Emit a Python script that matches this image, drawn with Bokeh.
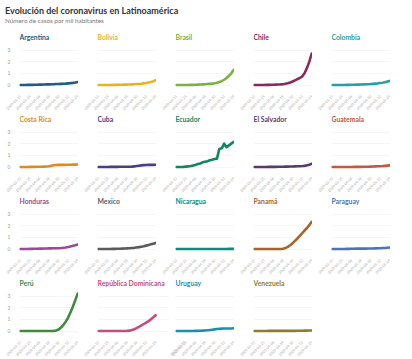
import pandas as pd
from math import pi
from bokeh.plotting import figure
from bokeh.layouts import column, row
from bokeh.models import Div, FixedTicker, DatetimeTickFormatter, Range1d, Label
from bokeh.embed import file_html
from bokeh.resources import INLINE

# ---------------- data (cases per thousand inhabitants) ----------------
dates = ["2020-03-13", "2020-03-16", "2020-03-19", "2020-03-22", "2020-03-25",
         "2020-03-28", "2020-03-31", "2020-04-03", "2020-04-06", "2020-04-09",
         "2020-04-12", "2020-04-15", "2020-04-18", "2020-04-21", "2020-04-24",
         "2020-04-27", "2020-04-30", "2020-05-03", "2020-05-06", "2020-05-09",
         "2020-05-12", "2020-05-15", "2020-05-18", "2020-05-21", "2020-05-24"]
tick_labels = ["2020-03-13", "2020-03-25", "2020-04-06", "2020-04-18",
               "2020-04-30", "2020-05-12", "2020-05-24"]
y_ticks = [0, 1, 2, 3]

countries = ["Argentina", "Bolivia", "Brasil", "Chile", "Colombia",
             "Costa Rica", "Cuba", "Ecuador", "El Salvador", "Guatemala",
             "Honduras", "Mexico", "Nicaragua", "Panamá", "Paraguay",
             "Perú", "República Dominicana", "Uruguay", "Venezuela"]

argentina = [0.00, 0.00, 0.00, 0.01, 0.01, 0.01, 0.02, 0.02, 0.03, 0.03, 0.04, 0.05, 0.05,
             0.06, 0.07, 0.08, 0.09, 0.10, 0.11, 0.12, 0.14, 0.16, 0.18, 0.21, 0.25]
bolivia = [0.00, 0.00, 0.00, 0.00, 0.00, 0.00, 0.01, 0.01, 0.01, 0.02, 0.02, 0.03, 0.03,
           0.04, 0.05, 0.06, 0.08, 0.09, 0.11, 0.14, 0.17, 0.21, 0.26, 0.32, 0.40]
brasil = [0.00, 0.00, 0.00, 0.00, 0.00, 0.00, 0.01, 0.01, 0.02, 0.03, 0.04, 0.05, 0.06,
          0.08, 0.10, 0.12, 0.15, 0.19, 0.25, 0.33, 0.45, 0.60, 0.78, 1.00, 1.30]
chile = [0.00, 0.00, 0.00, 0.00, 0.00, 0.01, 0.01, 0.02, 0.02, 0.03, 0.04, 0.05, 0.07,
         0.10, 0.15, 0.22, 0.30, 0.40, 0.50, 0.60, 0.72, 1.00, 1.45, 2.00, 2.70]
colombia = [0.00, 0.00, 0.00, 0.00, 0.00, 0.00, 0.01, 0.01, 0.02, 0.02, 0.03, 0.03, 0.04,
            0.05, 0.06, 0.07, 0.08, 0.10, 0.12, 0.14, 0.17, 0.20, 0.24, 0.29, 0.35]
costa_rica = [0.00, 0.00, 0.00, 0.00, 0.01, 0.01, 0.01, 0.02, 0.02, 0.02, 0.03, 0.04, 0.07,
              0.11, 0.15, 0.17, 0.18, 0.18, 0.18, 0.19, 0.19, 0.19, 0.20, 0.20, 0.21]
cuba = [0.00, 0.00, 0.00, 0.00, 0.00, 0.01, 0.01, 0.01, 0.01, 0.02, 0.02, 0.02, 0.02,
        0.02, 0.03, 0.05, 0.08, 0.11, 0.14, 0.16, 0.17, 0.18, 0.18, 0.18, 0.19]
ecuador = [0.00, 0.00, 0.00, 0.01, 0.03, 0.05, 0.08, 0.12, 0.18, 0.25, 0.30, 0.40, 0.45,
           0.50, 0.58, 0.62, 0.68, 0.72, 1.55, 1.60, 2.00, 1.70, 1.85, 2.00, 2.15]
el_salvador = [0.00, 0.00, 0.00, 0.00, 0.00, 0.00, 0.01, 0.01, 0.01, 0.01, 0.02, 0.02, 0.02,
               0.03, 0.03, 0.04, 0.04, 0.05, 0.06, 0.07, 0.08, 0.10, 0.14, 0.20, 0.28]
guatemala = [0.00, 0.00, 0.00, 0.00, 0.00, 0.00, 0.00, 0.00, 0.00, 0.01, 0.01, 0.01, 0.01,
             0.02, 0.02, 0.02, 0.03, 0.04, 0.05, 0.06, 0.07, 0.08, 0.10, 0.12, 0.14]
honduras = [0.00, 0.00, 0.00, 0.00, 0.01, 0.01, 0.02, 0.02, 0.03, 0.03, 0.04, 0.04, 0.05,
            0.05, 0.06, 0.06, 0.07, 0.08, 0.10, 0.13, 0.17, 0.22, 0.27, 0.32, 0.38]
mexico = [0.00, 0.00, 0.00, 0.00, 0.00, 0.00, 0.01, 0.01, 0.02, 0.02, 0.03, 0.04, 0.05,
          0.06, 0.08, 0.10, 0.13, 0.16, 0.20, 0.24, 0.29, 0.34, 0.40, 0.46, 0.52]
nicaragua = [0.00, 0.00, 0.00, 0.00, 0.00, 0.00, 0.00, 0.00, 0.00, 0.00, 0.00, 0.00, 0.00,
             0.00, 0.00, 0.00, 0.00, 0.00, 0.00, 0.00, 0.00, 0.00, 0.01, 0.01, 0.01]
panama = [0.00, 0.00, 0.00, 0.00, 0.00, 0.00, 0.00, 0.00, 0.00, 0.00, 0.00, 0.00, 0.02,
          0.08, 0.18, 0.32, 0.50, 0.70, 0.90, 1.12, 1.35, 1.58, 1.80, 2.05, 2.33]
paraguay = [0.00, 0.00, 0.00, 0.00, 0.00, 0.00, 0.01, 0.01, 0.02, 0.02, 0.03, 0.03, 0.03,
            0.03, 0.03, 0.04, 0.04, 0.04, 0.05, 0.06, 0.07, 0.08, 0.09, 0.11, 0.13]
peru = [0.00, 0.00, 0.00, 0.00, 0.00, 0.00, 0.00, 0.00, 0.00, 0.00, 0.00, 0.00, 0.00,
        0.00, 0.01, 0.05, 0.12, 0.30, 0.52, 0.80, 1.15, 1.60, 2.10, 2.65, 3.20]
rep_dominicana = [0.00, 0.00, 0.00, 0.00, 0.00, 0.00, 0.00, 0.00, 0.00, 0.00, 0.00, 0.00, 0.01,
                  0.03, 0.08, 0.15, 0.25, 0.36, 0.48, 0.60, 0.72, 0.85, 1.00, 1.17, 1.35]
uruguay = [0.00, 0.00, 0.00, 0.00, 0.00, 0.00, 0.00, 0.00, 0.01, 0.01, 0.02, 0.03, 0.04,
           0.06, 0.08, 0.11, 0.14, 0.17, 0.19, 0.20, 0.21, 0.21, 0.22, 0.22, 0.23]
venezuela = [0.00, 0.00, 0.00, 0.00, 0.00, 0.00, 0.01, 0.01, 0.01, 0.01, 0.01, 0.01, 0.01,
             0.01, 0.01, 0.01, 0.01, 0.01, 0.02, 0.02, 0.02, 0.03, 0.03, 0.04, 0.04]

series = [argentina, bolivia, brasil, chile, colombia, costa_rica, cuba, ecuador,
          el_salvador, guatemala, honduras, mexico, nicaragua, panama, paraguay,
          peru, rep_dominicana, uruguay, venezuela]

colors = ["#215b86", "#e6b422", "#7cb043", "#8a2a5c", "#2a9ea0",
          "#e08a1e", "#4b3d86", "#12875c", "#5a3a6b", "#c9573a",
          "#9a4a98", "#5a5a5a", "#0f8a7c", "#a7632c", "#4c73b6",
          "#3f8a3c", "#c04f7c", "#1d8fae", "#8e7d2e"]

# ---------------- styling / layout ----------------
FONT = "Lato"
FW, FH = 59, 55            # frame size in px (the frame also holds the panel title)
PX_PER_UNIT = 35 / 3       # 0..3 spans 35 px
Y1 = 3 + 17.5 / PX_PER_UNIT  # top of frame: 17.5 px above the "3" line
Y0 = Y1 - FH / PX_PER_UNIT
Y_TITLE = Y1 - 4.5 / PX_PER_UNIT

x = pd.to_datetime(dates)
x_start = x[0] - pd.Timedelta(days=1)
x_end = x[-1] + pd.Timedelta(days=1)
tick_ms = [pd.Timestamp(t).value // 10**6 for t in tick_labels]
fmt = "%Y-%m-%d"


def panel(name, vals, color, show_y, left, extra, bottom):
    # 'extra' widens the frame to the right (blank) so a long title is not clipped
    span = x_end - x_start
    p = figure(frame_width=FW + extra, frame_height=FH, output_backend="svg",
               toolbar_location=None, x_axis_type="datetime",
               x_range=Range1d(x_start, x_end + span * extra / FW),
               y_range=Range1d(Y0, Y1),
               min_border_left=left, min_border_right=0, min_border_top=0,
               min_border_bottom=bottom)
    p.title = None
    p.line(x, vals, line_color=color, line_width=2.6, line_cap="round", line_join="round")
    p.add_layout(Label(x=x_start, y=Y_TITLE, text=name, text_color=color,
                       text_font=FONT, text_font_style="bold", text_font_size="6.8px",
                       text_baseline="middle", text_align="left"))
    p.outline_line_color = None
    p.xgrid.visible = False
    p.ygrid.ticker = FixedTicker(ticks=y_ticks)
    p.ygrid.grid_line_color = "#eeeeee"
    p.ygrid.grid_line_width = 0.6
    ax = p.xaxis[0]
    ax.ticker = FixedTicker(ticks=tick_ms)
    ax.formatter = DatetimeTickFormatter(days=fmt, months=fmt, years=fmt, hours=fmt,
                                         minutes=fmt, seconds=fmt, milliseconds=fmt)
    ax.major_label_orientation = pi / 4
    ax.major_label_text_font = FONT
    ax.major_label_text_font_size = "3.6px"
    ax.major_label_text_color = "#a8a8a8"
    ax.major_label_standoff = 2
    ax.axis_line_color = None
    ax.major_tick_line_color = None
    ax.minor_tick_line_color = None
    ay = p.yaxis[0]
    ay.ticker = FixedTicker(ticks=y_ticks)
    ay.major_label_text_font = FONT
    ay.major_label_text_font_size = "5px"
    ay.major_label_text_color = "#a0a0a0"
    ay.major_label_standoff = 3
    ay.axis_line_color = None
    ay.major_tick_line_color = None
    ay.minor_tick_line_color = None
    ay.visible = show_y
    return p


rows = []
n = len(countries)
for r in range(4):
    figs = []
    bottom = 26 if r < 3 else 18
    for c in range(5):
        i = r * 5 + c
        if i >= n:
            continue
        left, extra = 19, 0
        if r == 3 and c == 1:      # room for the long title
            extra = 13
        if r == 3 and c == 2:
            left = 6
        figs.append(panel(countries[i], series[i], colors[i], c == 0, left, extra, bottom))
    rows.append(row(*figs))

header = Div(width=396, height=22, text=(
    f'<div style="font-family:{FONT};font-weight:bold;font-size:9px;color:#333;'
    'line-height:11px;margin-top:0px;">Evolución del coronavirus en Latinoamérica</div>'
    f'<div style="font-family:{FONT};font-size:6.3px;color:#777;line-height:8px;margin-top:1px;">'
    'Número de casos por mil habitantes</div>'))

source = Div(width=396, height=7, margin=(-6, 0, 0, 0), text=(
    f'<div style="font-family:{FONT};font-size:5.5px;color:#999;line-height:7px;">'
    'Fuente: <u>Universidad Johns Hopkins / Esdata</u></div>'))

layout = column(header, *rows, source)

open("out.html", "w").write(file_html(layout, INLINE))
